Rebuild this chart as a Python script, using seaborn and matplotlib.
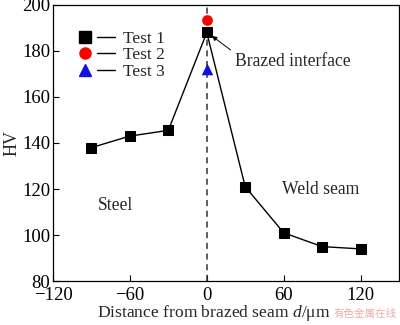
import matplotlib
matplotlib.use("Agg")
import matplotlib.pyplot as plt
from matplotlib.lines import Line2D
from matplotlib.legend_handler import HandlerTuple
import seaborn as sns
import pandas as pd

# Microhardness profile across the brazed joint
distance = [-90, -60, -30, 0, 30, 60, 90, 120]
test1_hv = [138, 143, 145.5, 188, 121, 101, 95, 94]
test2_distance = [0]
test2_hv = [193.5]
test3_distance = [0]
test3_hv = [172]

x_ticks = [-120, -60, 0, 60, 120]
y_ticks = [80, 100, 120, 140, 160, 180, 200]

sns.set_theme(style="white")
plt.rcParams["font.family"] = ["Liberation Serif", "DejaVu Serif"]
plt.rcParams["mathtext.fontset"] = "custom"
plt.rcParams["mathtext.it"] = "Liberation Serif:italic"
plt.rcParams["mathtext.rm"] = "Liberation Serif"

fig = plt.figure(figsize=(4.0, 3.25), dpi=100)
ax = fig.add_axes([0.1325, 0.135, 0.865, 0.85])

df1 = pd.DataFrame({"d": distance, "hv": test1_hv})
df2 = pd.DataFrame({"d": test2_distance, "hv": test2_hv})
df3 = pd.DataFrame({"d": test3_distance, "hv": test3_hv})

ax.axvline(0, color="#333333", lw=1.1, ls=(0, (4, 3)), zorder=1)

sns.lineplot(data=df1, x="d", y="hv", ax=ax, color="black", lw=1.0,
             marker="s", markersize=7.5, markeredgecolor="black",
             markerfacecolor="black", zorder=3)
sns.scatterplot(data=df2, x="d", y="hv", ax=ax, color="red", marker="o",
                s=60, edgecolor="red", linewidth=0, zorder=4)
sns.scatterplot(data=df3, x="d", y="hv", ax=ax, color="#1010e0", marker="^",
                s=70, edgecolor="#1010e0", linewidth=0, zorder=4)

ax.set_xlim(-120, 150)
ax.set_ylim(80, 200)
ax.set_xticks(x_ticks)
ax.set_yticks(y_ticks)
ax.set_xticklabels(["\u2212120", "\u221260", "0", "60", "120"])
ax.tick_params(axis="both", direction="in", length=4, width=0.8,
               labelsize=13.5, colors="black",
               bottom=True, left=True, top=False, right=False)
ax.tick_params(axis="x", pad=4.5)
ax.tick_params(axis="y", pad=2)
for s in ax.spines.values():
    s.set_color("black")
    s.set_linewidth(0.9)

ax.set_xlabel("Distance from brazed seam $d$/μm", fontsize=12.6)
ax.xaxis.set_label_coords(0.465, -0.08)
ax.set_ylabel("HV", fontsize=13, labelpad=1)

# Legend: marker followed by a short line segment
line_only = Line2D([], [], color="black", lw=1.0)
handles = [
    (Line2D([], [], ls="none", marker="s", ms=8, color="black"), line_only),
    (Line2D([], [], ls="none", marker="o", ms=8, color="red"), line_only),
    (Line2D([], [], ls="none", marker="^", ms=8.5, color="#1010e0"), line_only),
]
ax.legend(handles, ["Test 1", "Test 2", "Test 3"],
          handler_map={tuple: HandlerTuple(ndivide=None, pad=0.15)},
          loc="upper left", bbox_to_anchor=(0.045, 0.93), frameon=False,
          fontsize=12.5, handlelength=2.3, handletextpad=0.45,
          labelspacing=0.0, borderaxespad=0)

ax.annotate("Brazed interface", xy=(4, 186.5), xytext=(22, 175.3),
            fontsize=12.7, ha="left", va="center",
            arrowprops=dict(arrowstyle="-|>", color="black", lw=0.7,
                            mutation_scale=7, shrinkA=1, shrinkB=0,
                            relpos=(0.0, 1.0)))
ax.text(-85, 112.7, "Steel", fontsize=12.7, ha="left", va="center")
ax.text(59, 119.7, "Weld seam", fontsize=12.7, ha="left", va="center")

fig.text(0.834, 0.034, "有色金属在线", fontsize=7.6, color="#f3a9a9",
         family=["Noto Sans CJK SC", "DejaVu Sans"], ha="left", va="center")

fig.savefig("out.png", dpi=100)
